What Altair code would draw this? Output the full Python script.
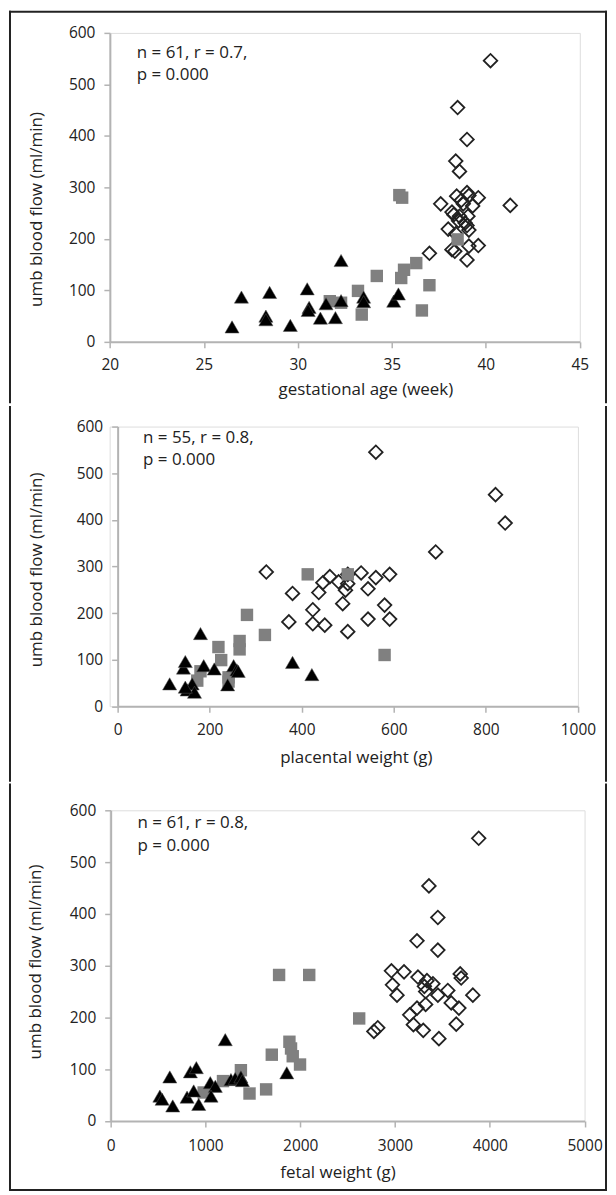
import altair as alt
import pandas as pd

# ---------------- Panel 1: gestational age ----------------
ga_tri = [26.5, 27.0, 28.5, 28.3, 28.3, 29.6, 30.5, 30.6, 30.55, 31.2, 31.5, 32.0, 32.3, 32.3, 33.5, 33.5, 35.1, 35.35]
ga_tri_flow = [29, 87, 96, 50, 43, 32, 103, 67, 61, 46, 74, 47, 158, 80, 87, 78, 79, 93]
ga_sq = [35.4, 35.55, 38.5, 36.3, 35.65, 35.5, 34.2, 33.2, 37.0, 36.6, 33.4, 31.7, 32.3]
ga_sq_flow = [285, 280, 199, 153, 140, 124, 128, 99, 110, 61, 53, 79, 76]
ga_dia = [40.25, 38.5, 39.0, 38.4, 38.6, 38.45, 38.7, 39.0, 39.1, 39.6, 39.3, 37.6, 41.3, 38.2, 38.6,
          39.05, 39.0, 39.1, 38.0, 38.4, 38.2, 38.35, 37.0, 39.1, 39.6, 39.0, 38.8, 38.55, 38.9, 38.3]
ga_dia_flow = [546, 455, 393, 351, 331, 283, 275, 290, 284, 280, 264, 268, 265, 252, 244,
               244, 226, 217, 219, 210, 179, 176, 172, 186, 187, 159, 268, 235, 231, 247]

# ---------------- Panel 2: placental weight ----------------
pw_tri = [113, 143, 147, 180, 187, 210, 252, 259, 262, 239, 151, 162, 167, 147, 380, 422]
pw_tri_flow = [48, 82, 96, 156, 87, 80, 87, 78, 75, 46, 35, 48, 30, 41, 94, 68]
pw_sq = [281, 265, 265, 320, 219, 225, 180, 173, 241, 241, 413, 500, 580]
pw_sq_flow = [196, 140, 122, 153, 127, 99, 75, 55, 62, 53, 283, 283, 110]
pw_dia = [561, 821, 842, 691, 323, 529, 500, 561, 591, 461, 446, 480, 500, 495, 544, 437, 380,
          489, 580, 424, 372, 424, 450, 544, 591, 500]
pw_dia_flow = [545, 454, 393, 331, 288, 286, 283, 276, 283, 278, 265, 267, 263, 249, 252, 244, 242,
               220, 217, 207, 181, 177, 174, 187, 187, 160]

# ---------------- Panel 3: fetal weight ----------------
fw_tri = [1209, 624, 841, 904, 519, 543, 655, 806, 876, 929, 1051, 1104, 1059, 1269, 1314, 1374, 1858, 1390]
fw_tri_flow = [157, 85, 95, 103, 48, 42, 29, 46, 58, 32, 74, 67, 48, 80, 82, 85, 93, 78]
fw_sq = [1777, 2095, 2622, 1886, 1903, 1921, 1998, 1700, 1374, 1185, 981, 1465, 1640]
fw_sq_flow = [282, 282, 198, 153, 140, 125, 109, 128, 98, 77, 55, 53, 61]
fw_dia = [3883, 3358, 3452, 3232, 3452, 2962, 3095, 3242, 3337, 3400, 2973, 3021, 3323, 3452, 3557,
          3688, 3698, 3821, 3323, 3232, 3155, 3593, 3674, 3646, 3194, 3298, 3463, 2777, 2818, 3310]
fw_dia_flow = [546, 454, 393, 348, 330, 290, 288, 278, 271, 265, 263, 243, 250, 243, 252,
               284, 276, 243, 225, 218, 205, 228, 218, 187, 186, 175, 159, 173, 180, 260]

y_ticks = [0, 100, 200, 300, 400, 500, 600]
y_title = "umb blood flow (ml/min)"

FONT = "Open Sans"
AXC = "#b3b3b3"
TXT = "#222222"

# common group origin (x) and outer frame, in page pixels
O_X = 109.0
FL, FR, FT, FB = 9, 607, 7, 1187     # frame bar centres (x) / outer edges (y)
B1, B2 = 401, 778                     # panel boundaries


def make_panel(tri, tri_f, sq, sq_f, dia, dia_f, xdom, xticks, xtitle, note1, note2,
               plot_left, plot_right, plot_top, h, y0, y1, x_lp, x_tp, y_tp, note_xy,
               xtitle_cx, ytitle_cy, top=False, bottom=False):
    shift = plot_left - O_X
    w = plot_right - O_X
    xsc = alt.Scale(domain=xdom, nice=False, zero=False, range=[shift, w])
    ysc = alt.Scale(domain=[0, 600], nice=False)
    common = dict(grid=False, domainColor=AXC, domainWidth=2, tickColor=AXC, tickWidth=1.5,
                  tickSize=6, labelFont=FONT, labelFontSize=15.5, labelColor=TXT,
                  titleFont=FONT, titleFontSize=17, titleFontWeight="normal", titleColor=TXT,
                  labelFlush=False, labelOverlap=False, format="d")
    xax = alt.Axis(values=xticks, title=xtitle, labelPadding=x_lp, titlePadding=x_tp,
                   titleX=xtitle_cx - O_X, **common)
    yax = alt.Axis(values=y_ticks, title=y_title, labelPadding=9, titlePadding=y_tp,
                   titleY=ytitle_cy - plot_top, offset=-shift, **common)

    def enc():
        return dict(x=alt.X("x:Q", scale=xsc, axis=xax), y=alt.Y("flow:Q", scale=ysc, axis=yax))

    dia_l = alt.Chart(pd.DataFrame({"x": dia, "flow": dia_f})).mark_point(
        shape="diamond", size=185, filled=False, stroke=TXT, strokeWidth=1.8, opacity=1
    ).encode(**enc())
    sq_l = alt.Chart(pd.DataFrame({"x": sq, "flow": sq_f})).mark_point(
        shape="square", size=155, filled=True, fill="#808080", strokeWidth=0, opacity=1
    ).encode(**enc())
    tri_l = alt.Chart(pd.DataFrame({"x": tri, "flow": tri_f})).mark_point(
        shape="triangle-up", size=200, filled=True, fill="#000000", stroke="#555555",
        strokeWidth=0.5, opacity=1
    ).encode(**enc())

    txt_kw = dict(align="left", baseline="top", font=FONT, fontSize=17, color=TXT)
    t1 = alt.Chart(pd.DataFrame({"t": [note1]})).mark_text(**txt_kw).encode(
        x=alt.value(shift + note_xy[0]), y=alt.value(note_xy[1]), text="t:N")
    t2 = alt.Chart(pd.DataFrame({"t": [note2]})).mark_text(**txt_kw).encode(
        x=alt.value(shift + note_xy[0]), y=alt.value(note_xy[1] + 22.5), text="t:N")

    # outer frame drawn as filled bars (exact bounds, so the panels abut cleanly)
    fl, fr = FL - O_X, FR - O_X
    ft, fb = y0 - plot_top, y1 - plot_top
    bar_kw = dict(color=TXT, strokeWidth=0)
    base = alt.Chart(pd.DataFrame({"a": [0]}))
    layers = [dia_l, sq_l, tri_l, t1, t2,
              base.mark_rect(**bar_kw).encode(x=alt.value(fl - 1), x2=alt.value(fl + 1),
                                              y=alt.value(ft), y2=alt.value(fb)),
              base.mark_rect(**bar_kw).encode(x=alt.value(fr - 1), x2=alt.value(fr + 1),
                                              y=alt.value(ft), y2=alt.value(fb))]
    if top:
        layers.append(base.mark_rect(**bar_kw).encode(x=alt.value(fl - 1), x2=alt.value(fr + 1),
                                                      y=alt.value(ft), y2=alt.value(ft + 2)))
    if bottom:
        layers.append(base.mark_rect(**bar_kw).encode(x=alt.value(fl - 1), x2=alt.value(fr + 1),
                                                      y=alt.value(fb - 2), y2=alt.value(fb)))
    return alt.layer(*layers).properties(width=w, height=h)


p1 = make_panel(ga_tri, ga_tri_flow, ga_sq, ga_sq_flow, ga_dia, ga_dia_flow,
                [20, 45], [20, 25, 30, 35, 40, 45], "gestational age (week)",
                "n = 61, r = 0.7,", "p = 0.000", 109.2, 580.7, 29.3, 310, FT, B1,
                10, 8, 23, (27, 12), 365.5, 206.0, top=True)
p2 = make_panel(pw_tri, pw_tri_flow, pw_sq, pw_sq_flow, pw_dia, pw_dia_flow,
                [0, 1000], [0, 200, 400, 600, 800, 1000], "placental weight (g)",
                "n = 55, r = 0.8,", "p = 0.000", 117.0, 578.8, 421.7, 280.6, B1, B2,
                10, 12, 31, (25.5, 3.5), 356.0, 565.0)
p3 = make_panel(fw_tri, fw_tri_flow, fw_sq, fw_sq_flow, fw_dia, fw_dia_flow,
                [0, 5000], [0, 1000, 2000, 3000, 4000, 5000], "fetal weight (g)",
                "n = 61, r = 0.8,", "p = 0.000", 110.0, 585.5, 805.0, 311.7, B2, FB,
                12, 10, 25, (27, 5), 337.5, 956.7, bottom=True)

chart = alt.vconcat(p1, p2, p3, spacing=0, padding=0).configure_view(
    strokeWidth=0).configure(background="white")

chart.save("out.html", embed_options={"renderer": "svg", "actions": False})
